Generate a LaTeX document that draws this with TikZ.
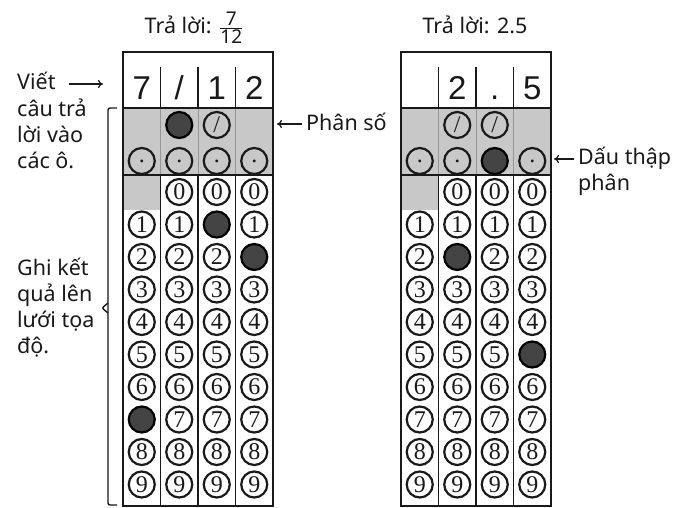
\documentclass[tikz,border=0pt]{standalone}
\usepackage{amsmath}
\usepackage{fontspec}
\setmainfont{Noto Sans}
\newfontfamily\bubblefont{Liberation Serif}
\newfontfamily\headfont{Liberation Sans}
\usetikzlibrary{
    arrows.meta,
    positioning
}
\definecolor{ink}{RGB}{25,25,25}
\definecolor{cellgray}{RGB}{200,200,200}
\definecolor{marker}{RGB}{68,68,68}
\definecolor{softline}{RGB}{150,150,150}
\tikzset{
    line cap=round,
    line join=round,
    bubble/.style={
        circle,
        draw=ink,
        line width=2.2pt,
        minimum size=26pt,
        inner sep=0pt,
        text=ink,
        font=\bubblefont\fontsize{24}{24}\selectfont
    },
    marked/.style={
        bubble,
        fill=marker,
        draw=black
    },
    entry/.style={
        anchor=base,
        text=ink,
        font=\headfont\fontsize{33}{33}\selectfont
    },
    note/.style={
        anchor=base west,
        align=left,
        inner sep=0pt,
        text=ink,
        font=\fontsize{21.5}{26}\selectfont
    },
    title/.style={
        note,
        anchor=base
    },
    frame/.style={
        draw=ink,
        line width=2pt
    },
    colrule/.style={
        draw=ink,
        line width=1.7pt
    },
    softrule/.style={
        draw=softline,
        line width=1pt
    },
    pointer/.style={
        -{To[length=5pt,width=8pt]},
        draw=ink,
        line width=1.2pt
    },
    brace/.style={
        draw=ink,
        line width=1.4pt,
        rounded corners=2pt
    }
}

\begin{document}
\begin{tikzpicture}[x=1pt, y=-1pt]
\useasboundingbox (0,0) rectangle (689,508);

% === LEFT GRID: 7/12 ===
\node[title] (ltitle) at (194,34) {Trả lời: $\genfrac{}{}{0.8pt}{}{\mbox{\fontsize{19}{19}\selectfont 7}}{\mbox{\fontsize{19}{19}\selectfont 12}}$};

\begin{scope}[xshift=123pt]
\fill[cellgray] (0,108) rectangle (150,175);
\fill[cellgray] (0,175) rectangle (37.5,210);
\foreach \x in {37.5,75,112.5} {
    \draw[colrule] (\x,67) -- (\x,108);
    \draw[softrule] (\x,108) -- (\x,175);
    \draw[colrule] (\x,175) -- (\x,506);
}
\draw[colrule] (0,108) -- (150,108) (0,175) -- (150,175);
\draw[frame] (0,52) rectangle (150,506);

% written answer
\node[entry] (lh1) at (18.75,100) {7};
\node[entry] (lh2) at (56.25,100) {/};
\node[entry] (lh3) at (93.75,100) {1};
\node[entry] (lh4) at (131.25,100) {2};

% fraction bar and decimal point
\node[marked] (ls2) at (56.25,125) {};
\node[bubble] (ls3) at (93.75,125) {/};
\foreach \c in {1,...,4}
    \node[bubble] (ld\c) at ({37.5*\c-18.75},161) {.};

% digits
\foreach \c/\m/\s in {1/7/1, 2/-1/0, 3/1/0, 4/2/0} {
    \foreach \d in {\s,...,9} {
        \ifnum\d=\m
            \node[marked] (l\c-\d) at ({37.5*\c-18.75},{192+32.5*\d}) {};
        \else
            \node[bubble] (l\c-\d) at ({37.5*\c-18.75},{192+32.5*\d}) {\d};
        \fi
    }
}
\end{scope}

% === RIGHT GRID: 2.5 ===
\node[title] (rtitle) at (475,34) {Trả lời: 2.5};

\begin{scope}[xshift=401pt]
\fill[cellgray] (0,108) rectangle (150,175);
\fill[cellgray] (0,175) rectangle (37.5,210);
\foreach \x in {37.5,75,112.5} {
    \draw[colrule] (\x,67) -- (\x,108);
    \draw[softrule] (\x,108) -- (\x,175);
    \draw[colrule] (\x,175) -- (\x,506);
}
\draw[colrule] (0,108) -- (150,108) (0,175) -- (150,175);
\draw[frame] (0,52) rectangle (150,506);

% written answer
\node[entry] (rh2) at (56.25,100) {2};
\node[entry] (rh3) at (93.75,100) {.};
\node[entry] (rh4) at (131.25,100) {5};

% fraction bar and decimal point
\node[bubble] (rs2) at (56.25,125) {/};
\node[bubble] (rs3) at (93.75,125) {/};
\node[bubble] (rd1) at (18.75,161) {.};
\node[bubble] (rd2) at (56.25,161) {.};
\node[marked] (rd3) at (93.75,161) {};
\node[bubble] (rd4) at (131.25,161) {.};

% digits
\foreach \c/\m/\s in {1/-1/1, 2/2/0, 3/-1/0, 4/5/0} {
    \foreach \d in {\s,...,9} {
        \ifnum\d=\m
            \node[marked] (r\c-\d) at ({37.5*\c-18.75},{192+32.5*\d}) {};
        \else
            \node[bubble] (r\c-\d) at ({37.5*\c-18.75},{192+32.5*\d}) {\d};
        \fi
    }
}
\end{scope}

% === LABELS ===
% (multi-line notes sit on their last baseline)
\node[note] (viet) at (17,90) {Viết};
\node[note] (vietrest) at (17,169) {câu trả\\lời vào\\các ô.};
\coordinate (vietend) at (103,84);
\draw[pointer, shorten <=13pt] (viet.east |- vietend) -- (vietend);

\node[note] (phanso) at (306,131) {Phân số};
\coordinate (phansoend) at (277,124);
\draw[pointer, shorten <=4pt] (phanso.west |- phansoend) -- (phansoend);

\node[note] (thapphan) at (578,191) {Dấu thập\\phân};
\coordinate (thapphanend) at (554,159);
\draw[pointer, shorten <=4pt] (thapphan.west |- thapphanend) -- (thapphanend);

\node[note] (ghi) at (17,353) {Ghi kết\\quả lên\\lưới tọa\\độ.};
\draw[brace] (117,108) -- (108,108) -- (108,505) -- (117,505);
\draw[brace] (108,303) -- (102,308) -- (108,313);

\end{tikzpicture}
\end{document}
